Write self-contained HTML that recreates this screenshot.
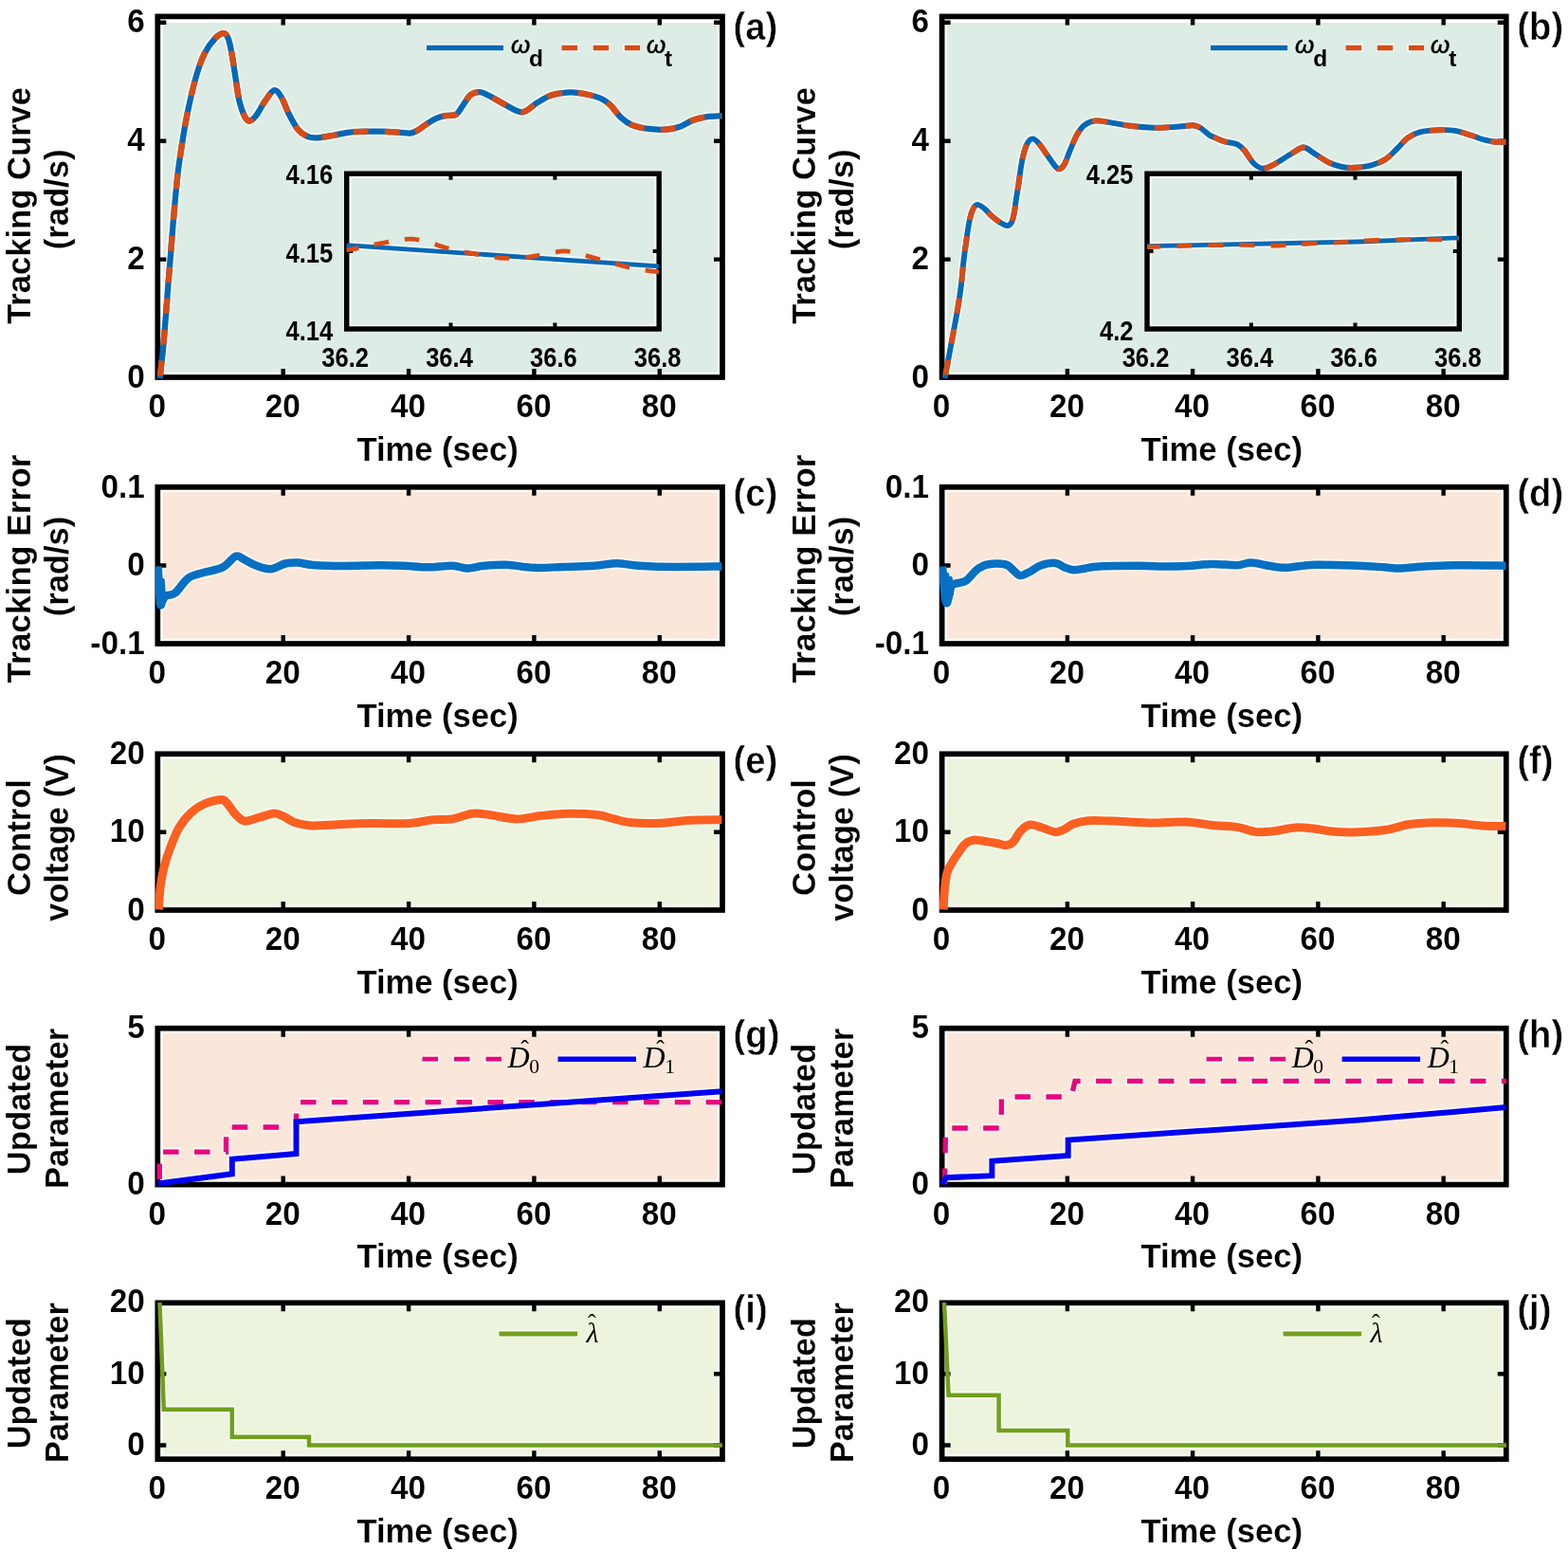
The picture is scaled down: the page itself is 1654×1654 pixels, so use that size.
<!DOCTYPE html>
<html lang="en">
<head>
<meta charset="utf-8">
<title>Tracking results</title>
<style>
html,body{margin:0;padding:0;background:#fff;}
body{width:1654px;height:1654px;overflow:hidden;}
svg{display:block;}
</style>
</head>
<body>
<svg width="1654" height="1654" viewBox="0 0 1654 1654" font-family='"Liberation Sans", sans-serif' font-size="34.6" font-weight="bold" fill="#000">
<rect width="1654" height="1654" fill="#fff"/>
<defs>
<clipPath id="h0"><rect x="169" y="20.1" width="590.3" height="375.2"/></clipPath>
<clipPath id="c0"><rect x="163.6" y="14.7" width="601.1" height="386"/></clipPath>
<clipPath id="h1"><rect x="996.3" y="20.1" width="589.8" height="375.2"/></clipPath>
<clipPath id="c1"><rect x="990.9" y="14.7" width="600.6" height="386"/></clipPath>
<clipPath id="h2"><rect x="169" y="516.5" width="590.3" height="159.8"/></clipPath>
<clipPath id="c2"><rect x="163.6" y="511.1" width="601.1" height="170.6"/></clipPath>
<clipPath id="h3"><rect x="996.3" y="516.5" width="589.8" height="159.8"/></clipPath>
<clipPath id="c3"><rect x="990.9" y="511.1" width="600.6" height="170.6"/></clipPath>
<clipPath id="h4"><rect x="169" y="798" width="590.3" height="159.3"/></clipPath>
<clipPath id="c4"><rect x="163.6" y="792.6" width="601.1" height="170.1"/></clipPath>
<clipPath id="h5"><rect x="996.3" y="798" width="589.8" height="159.3"/></clipPath>
<clipPath id="c5"><rect x="990.9" y="792.6" width="600.6" height="170.1"/></clipPath>
<clipPath id="h6"><rect x="169" y="1087.4" width="590.3" height="159.5"/></clipPath>
<clipPath id="c6"><rect x="163.6" y="1082" width="601.1" height="170.3"/></clipPath>
<clipPath id="h7"><rect x="996.3" y="1087.4" width="589.8" height="159.5"/></clipPath>
<clipPath id="c7"><rect x="990.9" y="1082" width="600.6" height="170.3"/></clipPath>
<clipPath id="h8"><rect x="169" y="1377" width="590.3" height="159.5"/></clipPath>
<clipPath id="c8"><rect x="163.6" y="1371.6" width="601.1" height="170.3"/></clipPath>
<clipPath id="h9"><rect x="996.3" y="1377" width="589.8" height="159.5"/></clipPath>
<clipPath id="c9"><rect x="990.9" y="1371.6" width="600.6" height="170.3"/></clipPath>
<clipPath id="h10"><rect x="368.4" y="185.9" width="324.1" height="158.4"/></clipPath>
<clipPath id="c10"><rect x="363" y="180.5" width="334.9" height="169.2"/></clipPath>
<clipPath id="h11"><rect x="1212.7" y="185.9" width="323.9" height="158.4"/></clipPath>
<clipPath id="c11"><rect x="1207.3" y="180.5" width="334.7" height="169.2"/></clipPath>
</defs>
<rect x="166.3" y="23.8" width="595.7" height="374.2" fill="#ddece5"/>
<rect x="170.5" y="21.5" width="587.4" height="372.3" fill="none" stroke="#fff" stroke-opacity="0.8" stroke-width="2.6"/>
<path d="M168.6 399C168.9 396.2 169.9 387.8 170.5 382C171.1 376.2 171.6 373.2 172.4 364C173.2 354.8 174.6 337.4 175.4 327C176.2 316.6 176.6 311.1 177.3 301.6C178.1 292.1 179.1 280.6 179.9 270C180.8 259.4 181.4 249.7 182.4 238C183.4 226.3 184.7 211.2 185.8 200C186.9 188.8 187.4 182.9 189.2 170.6C191 158.3 193.6 140.6 196.4 126.1C199.2 111.6 202.9 95.1 206.1 83.5C209.3 71.9 212.2 63.6 215.8 56.4C219.4 49.1 224 43.5 227.4 40C230.8 36.5 233.8 34.9 236.1 35.1C238.3 35.3 239.4 37.1 240.9 41C242.4 44.9 243.5 51.3 244.8 58.4C246.1 65.5 247.4 75.5 248.7 83.5C250 91.5 250.9 100.1 252.5 106.7C254.1 113.3 256.5 119.7 258.3 123.2C260.1 126.7 261.2 127.8 263.2 127.6C265.1 127.4 267.3 125.7 270 122.2C272.7 118.7 276.4 111.2 279.6 106.7C282.8 102.2 286.4 95.7 289.3 95.1C292.2 94.5 294.4 98.7 297 102.9C299.6 107.1 301.9 114.7 304.8 120.3C307.7 125.9 311.2 132.8 314.4 136.7C317.6 140.6 320.9 142.4 324.1 143.9C327.3 145.4 329 145.6 333.8 145.4C338.6 145.2 346.7 143.5 353.1 142.5C359.6 141.5 364.4 139.8 372.5 139.2C380.6 138.6 393.4 138.6 401.5 138.7C409.6 138.8 415.7 139.3 420.9 139.6C426.1 139.9 429.3 140.9 432.5 140.6C435.7 140.3 437.3 139.3 440.2 137.7C443.1 136.1 446.8 133 450 130.9C453.2 128.8 456.5 126.5 459.7 125.1C462.9 123.6 465.8 122.9 469.3 122.2C472.9 121.5 477.8 122.6 481 120.7C484.2 118.8 486.1 114 488.7 110.6C491.3 107.1 493.5 102.2 496.4 100C499.3 97.8 502.9 96.9 506.1 97.1C509.3 97.2 511.6 98.8 515.8 100.9C520 103 525.5 106.7 531.3 109.6C537.1 112.5 544.8 118.4 550.6 118.3C556.4 118.2 561 111.7 566.1 108.7C571.2 105.7 575.7 102.4 581.5 100.5C587.3 98.6 595.1 97.7 600.9 97.4C606.7 97.2 610.9 97.9 616.4 99C621.9 100.1 629.3 101.9 633.8 103.8C638.3 105.7 640 107.2 643.5 110.6C647 114 651.2 120.5 655.1 124.1C659 127.6 662.2 130 666.7 131.9C671.2 133.8 676.4 134.9 682.2 135.7C688 136.5 695.7 137 701.5 136.7C707.3 136.4 712.2 135.4 717 133.8C721.8 132.2 725.7 128.8 730.5 127C735.3 125.2 740.8 124 746 123.2C751.2 122.4 758.9 122.4 761.5 122.2" fill="none" stroke="#fff" stroke-opacity="0.62" stroke-width="9.9" stroke-linejoin="round" stroke-linecap="butt" clip-path="url(#h0)"/>
<path d="M450 50.5H531" fill="none" stroke="#fff" stroke-opacity="0.62" stroke-width="9.2" stroke-linejoin="round" stroke-linecap="butt" clip-path="url(#h0)"/>
<path d="M592.5 50.5H675" fill="none" stroke="#fff" stroke-opacity="0.62" stroke-width="9.2" stroke-linejoin="round" stroke-linecap="butt" stroke-dasharray="20.1 13.1" stroke-dashoffset="1.8" clip-path="url(#h0)"/>
<path d="M298.7 398 v-9 M298.7 17.4 v9M431.1 398 v-9 M431.1 17.4 v9M563.4 398 v-9 M563.4 17.4 v9M695.8 398 v-9 M695.8 17.4 v9M166.3 23.8 h9 M762 23.8 h-9M166.3 148.7 h9 M762 148.7 h-9M166.3 273.6 h9 M762 273.6 h-9" stroke="#000" stroke-width="4.4" fill="none"/>
<rect x="166.3" y="17.4" width="595.7" height="380.6" fill="none" stroke="#000" stroke-width="5.7"/>
<g clip-path="url(#c0)">
<path d="M168.6 399C168.9 396.2 169.9 387.8 170.5 382C171.1 376.2 171.6 373.2 172.4 364C173.2 354.8 174.6 337.4 175.4 327C176.2 316.6 176.6 311.1 177.3 301.6C178.1 292.1 179.1 280.6 179.9 270C180.8 259.4 181.4 249.7 182.4 238C183.4 226.3 184.7 211.2 185.8 200C186.9 188.8 187.4 182.9 189.2 170.6C191 158.3 193.6 140.6 196.4 126.1C199.2 111.6 202.9 95.1 206.1 83.5C209.3 71.9 212.2 63.6 215.8 56.4C219.4 49.1 224 43.5 227.4 40C230.8 36.5 233.8 34.9 236.1 35.1C238.3 35.3 239.4 37.1 240.9 41C242.4 44.9 243.5 51.3 244.8 58.4C246.1 65.5 247.4 75.5 248.7 83.5C250 91.5 250.9 100.1 252.5 106.7C254.1 113.3 256.5 119.7 258.3 123.2C260.1 126.7 261.2 127.8 263.2 127.6C265.1 127.4 267.3 125.7 270 122.2C272.7 118.7 276.4 111.2 279.6 106.7C282.8 102.2 286.4 95.7 289.3 95.1C292.2 94.5 294.4 98.7 297 102.9C299.6 107.1 301.9 114.7 304.8 120.3C307.7 125.9 311.2 132.8 314.4 136.7C317.6 140.6 320.9 142.4 324.1 143.9C327.3 145.4 329 145.6 333.8 145.4C338.6 145.2 346.7 143.5 353.1 142.5C359.6 141.5 364.4 139.8 372.5 139.2C380.6 138.6 393.4 138.6 401.5 138.7C409.6 138.8 415.7 139.3 420.9 139.6C426.1 139.9 429.3 140.9 432.5 140.6C435.7 140.3 437.3 139.3 440.2 137.7C443.1 136.1 446.8 133 450 130.9C453.2 128.8 456.5 126.5 459.7 125.1C462.9 123.6 465.8 122.9 469.3 122.2C472.9 121.5 477.8 122.6 481 120.7C484.2 118.8 486.1 114 488.7 110.6C491.3 107.1 493.5 102.2 496.4 100C499.3 97.8 502.9 96.9 506.1 97.1C509.3 97.2 511.6 98.8 515.8 100.9C520 103 525.5 106.7 531.3 109.6C537.1 112.5 544.8 118.4 550.6 118.3C556.4 118.2 561 111.7 566.1 108.7C571.2 105.7 575.7 102.4 581.5 100.5C587.3 98.6 595.1 97.7 600.9 97.4C606.7 97.2 610.9 97.9 616.4 99C621.9 100.1 629.3 101.9 633.8 103.8C638.3 105.7 640 107.2 643.5 110.6C647 114 651.2 120.5 655.1 124.1C659 127.6 662.2 130 666.7 131.9C671.2 133.8 676.4 134.9 682.2 135.7C688 136.5 695.7 137 701.5 136.7C707.3 136.4 712.2 135.4 717 133.8C721.8 132.2 725.7 128.8 730.5 127C735.3 125.2 740.8 124 746 123.2C751.2 122.4 758.9 122.4 761.5 122.2" fill="none" stroke="#0568b6" stroke-width="6.3" stroke-linejoin="round" stroke-linecap="butt"/>
<path d="M168.6 399C168.9 396.2 169.9 387.8 170.5 382C171.1 376.2 171.6 373.2 172.4 364C173.2 354.8 174.6 337.4 175.4 327C176.2 316.6 176.6 311.1 177.3 301.6C178.1 292.1 179.1 280.6 179.9 270C180.8 259.4 181.4 249.7 182.4 238C183.4 226.3 184.7 211.2 185.8 200C186.9 188.8 187.4 182.9 189.2 170.6C191 158.3 193.6 140.6 196.4 126.1C199.2 111.6 202.9 95.1 206.1 83.5C209.3 71.9 212.2 63.6 215.8 56.4C219.4 49.1 224 43.5 227.4 40C230.8 36.5 233.8 34.9 236.1 35.1C238.3 35.3 239.4 37.1 240.9 41C242.4 44.9 243.5 51.3 244.8 58.4C246.1 65.5 247.4 75.5 248.7 83.5C250 91.5 250.9 100.1 252.5 106.7C254.1 113.3 256.5 119.7 258.3 123.2C260.1 126.7 261.2 127.8 263.2 127.6C265.1 127.4 267.3 125.7 270 122.2C272.7 118.7 276.4 111.2 279.6 106.7C282.8 102.2 286.4 95.7 289.3 95.1C292.2 94.5 294.4 98.7 297 102.9C299.6 107.1 301.9 114.7 304.8 120.3C307.7 125.9 311.2 132.8 314.4 136.7C317.6 140.6 320.9 142.4 324.1 143.9C327.3 145.4 329 145.6 333.8 145.4C338.6 145.2 346.7 143.5 353.1 142.5C359.6 141.5 364.4 139.8 372.5 139.2C380.6 138.6 393.4 138.6 401.5 138.7C409.6 138.8 415.7 139.3 420.9 139.6C426.1 139.9 429.3 140.9 432.5 140.6C435.7 140.3 437.3 139.3 440.2 137.7C443.1 136.1 446.8 133 450 130.9C453.2 128.8 456.5 126.5 459.7 125.1C462.9 123.6 465.8 122.9 469.3 122.2C472.9 121.5 477.8 122.6 481 120.7C484.2 118.8 486.1 114 488.7 110.6C491.3 107.1 493.5 102.2 496.4 100C499.3 97.8 502.9 96.9 506.1 97.1C509.3 97.2 511.6 98.8 515.8 100.9C520 103 525.5 106.7 531.3 109.6C537.1 112.5 544.8 118.4 550.6 118.3C556.4 118.2 561 111.7 566.1 108.7C571.2 105.7 575.7 102.4 581.5 100.5C587.3 98.6 595.1 97.7 600.9 97.4C606.7 97.2 610.9 97.9 616.4 99C621.9 100.1 629.3 101.9 633.8 103.8C638.3 105.7 640 107.2 643.5 110.6C647 114 651.2 120.5 655.1 124.1C659 127.6 662.2 130 666.7 131.9C671.2 133.8 676.4 134.9 682.2 135.7C688 136.5 695.7 137 701.5 136.7C707.3 136.4 712.2 135.4 717 133.8C721.8 132.2 725.7 128.8 730.5 127C735.3 125.2 740.8 124 746 123.2C751.2 122.4 758.9 122.4 761.5 122.2" fill="none" stroke="#d94c15" stroke-width="6.3" stroke-linejoin="round" stroke-linecap="butt" stroke-dasharray="16 17" stroke-dashoffset="30.3"/>
</g>
<path d="M450 50.5H531" fill="none" stroke="#0568b6" stroke-width="5.6" stroke-linejoin="round" stroke-linecap="butt"/>
<path d="M592.5 50.5H675" fill="none" stroke="#d94c15" stroke-width="5.6" stroke-linejoin="round" stroke-linecap="butt" stroke-dasharray="16.5 16.7"/>
<text x="539" y="56" font-size="26" font-style="italic" font-weight="normal" stroke="#000" stroke-width="0.5">ω<tspan dx="-1.2" dy="14" font-size="24.5" font-style="normal" font-weight="bold" stroke="none">d</tspan></text>
<text x="682" y="56" font-size="26" font-style="italic" font-weight="normal" stroke="#000" stroke-width="0.5">ω<tspan dx="-1.2" dy="14" font-size="24.5" font-style="normal" font-weight="bold" stroke="none">t</tspan></text>
<text transform="translate(165.8 440) scale(0.9615 1)" text-anchor="middle" font-size="34.63" stroke="#fff" stroke-width="0.1">0</text>
<text transform="translate(298.2 440) scale(0.9615 1)" text-anchor="middle" font-size="34.63" stroke="#fff" stroke-width="0.1">20</text>
<text transform="translate(430.6 440) scale(0.9615 1)" text-anchor="middle" font-size="34.63" stroke="#fff" stroke-width="0.1">40</text>
<text transform="translate(562.9 440) scale(0.9615 1)" text-anchor="middle" font-size="34.63" stroke="#fff" stroke-width="0.1">60</text>
<text transform="translate(695.3 440) scale(0.9615 1)" text-anchor="middle" font-size="34.63" stroke="#fff" stroke-width="0.1">80</text>
<text transform="translate(461.6 485.6) scale(0.9615 1)" text-anchor="middle" font-size="35.98" stroke="#fff" stroke-width="0.15">Time (sec)</text>
<text transform="translate(152.7 34.4) scale(0.9615 1)" text-anchor="end" font-size="34.63" stroke="#fff" stroke-width="0.1">6</text>
<text transform="translate(152.7 159.3) scale(0.9615 1)" text-anchor="end" font-size="34.63" stroke="#fff" stroke-width="0.1">4</text>
<text transform="translate(152.7 284.2) scale(0.9615 1)" text-anchor="end" font-size="34.63" stroke="#fff" stroke-width="0.1">2</text>
<text transform="translate(152.7 408.8) scale(0.9615 1)" text-anchor="end" font-size="34.63" stroke="#fff" stroke-width="0.1">0</text>
<text transform="translate(773.6 41.7) scale(0.9615 1)" font-size="39.73" stroke="#fff" stroke-width="0.5">(a)</text>
<text transform="translate(32.3 217) rotate(-90) scale(0.9615 1)" text-anchor="middle" font-size="35.98" stroke="#fff" stroke-width="0.15">Tracking Curve</text>
<text transform="translate(72.3 210.4) rotate(-90) scale(0.9615 1)" text-anchor="middle" font-size="35.98" stroke="#fff" stroke-width="0.15">(rad/s)</text>
<rect x="993.6" y="23.8" width="595.2" height="374.2" fill="#ddece5"/>
<rect x="997.8" y="21.5" width="586.9" height="372.3" fill="none" stroke="#fff" stroke-opacity="0.8" stroke-width="2.6"/>
<path d="M996.6 399C997.4 394.7 999.9 381.3 1001.5 373C1003.1 364.7 1004.6 356.7 1006 349C1007.4 341.3 1008.7 334.9 1010 327C1011.3 319.1 1012.7 310.1 1013.8 301.6C1014.9 293.1 1015.5 283.6 1016.4 276.2C1017.2 268.8 1017.9 264 1018.9 257.2C1019.9 250.4 1020.9 241.5 1022.1 235.6C1023.3 229.7 1024.4 224.9 1025.9 221.6C1027.4 218.3 1028.9 216.1 1031 215.9C1033.1 215.7 1036.1 218.3 1038.6 220.3C1041.1 222.3 1043.2 225.4 1046.2 227.9C1049.2 230.4 1053.7 233.9 1056.4 235.6C1059.2 237.3 1060.9 238.3 1062.7 238.1C1064.5 237.9 1066.1 236.7 1067.3 234.3C1068.5 231.9 1069.2 227.4 1070 223.5C1070.8 219.6 1071 215.9 1071.8 211C1072.5 206.1 1073.4 200.9 1074.5 193.8C1075.6 186.7 1076.8 175.5 1078.3 168.6C1079.8 161.7 1081.4 155.9 1083.2 152.2C1085 148.5 1086.9 146.6 1089 146.4C1091.1 146.2 1093.1 148.1 1095.8 151.2C1098.5 154.3 1102.5 160.8 1105.4 164.8C1108.3 168.8 1111.2 173.2 1113.2 175.4C1115.2 177.7 1115.8 178.6 1117.4 178.3C1119 178 1120.9 176.7 1122.8 173.5C1124.7 170.3 1126.3 164.3 1128.6 159C1130.9 153.7 1133.8 146.1 1136.4 141.6C1139 137.1 1140.9 134.3 1144.1 131.9C1147.3 129.5 1150.9 127.8 1155.7 127.4C1160.5 127 1167 128.7 1173.1 129.6C1179.2 130.5 1185.1 131.9 1192.5 132.8C1199.9 133.7 1209.5 134.6 1217.6 134.8C1225.6 135 1234 134.2 1240.8 133.8C1247.6 133.4 1254.1 132.1 1258.3 132.3C1262.5 132.5 1263.1 133.1 1266 134.8C1268.9 136.5 1273.4 140.9 1275.7 142.5C1278 144.1 1277.3 143.4 1280 144.5C1282.7 145.6 1287.4 148 1291.6 149.3C1295.8 150.6 1301.5 150.6 1305.1 152.2C1308.6 153.8 1310 155.6 1312.9 159C1315.8 162.4 1319.4 169.4 1322.6 172.5C1325.8 175.6 1328.7 177.5 1332.2 177.7C1335.7 177.9 1339 176 1343.8 173.5C1348.6 171 1356.1 165.8 1361.3 162.8C1366.5 159.8 1370.6 155.7 1374.8 155.5C1379 155.3 1381.9 159.2 1386.4 161.9C1390.9 164.6 1397.1 169.2 1401.9 171.5C1406.7 173.8 1410.9 175.1 1415.4 176C1419.9 176.9 1423.8 177.1 1429 176.8C1434.2 176.5 1440.9 175.9 1446.4 174.4C1451.9 172.9 1457.4 170.6 1461.9 167.7C1466.4 164.8 1469.6 160.7 1473.5 157C1477.4 153.3 1480.9 148.4 1485.1 145.4C1489.3 142.4 1493.4 140.5 1498.6 139.2C1503.8 137.8 1510.2 137.6 1516 137.3C1521.8 137.1 1527.6 136.8 1533.4 137.7C1539.2 138.6 1545.4 140.8 1550.9 142.5C1556.4 144.2 1561.8 146.5 1566.3 147.7C1570.8 148.9 1574.2 149.4 1577.9 149.7C1581.6 150 1586.7 149.7 1588.5 149.7" fill="none" stroke="#fff" stroke-opacity="0.62" stroke-width="9.5" stroke-linejoin="round" stroke-linecap="butt" clip-path="url(#h1)"/>
<path d="M1277.1 50.5H1358.1" fill="none" stroke="#fff" stroke-opacity="0.62" stroke-width="9.2" stroke-linejoin="round" stroke-linecap="butt" clip-path="url(#h1)"/>
<path d="M1419.6 50.5H1502.1" fill="none" stroke="#fff" stroke-opacity="0.62" stroke-width="9.2" stroke-linejoin="round" stroke-linecap="butt" stroke-dasharray="20.1 13.1" stroke-dashoffset="1.8" clip-path="url(#h1)"/>
<path d="M1125.9 398 v-9 M1125.9 17.4 v9M1258.1 398 v-9 M1258.1 17.4 v9M1390.4 398 v-9 M1390.4 17.4 v9M1522.7 398 v-9 M1522.7 17.4 v9M993.6 23.8 h9 M1588.8 23.8 h-9M993.6 148.7 h9 M1588.8 148.7 h-9M993.6 273.6 h9 M1588.8 273.6 h-9" stroke="#000" stroke-width="4.4" fill="none"/>
<rect x="993.6" y="17.4" width="595.2" height="380.6" fill="none" stroke="#000" stroke-width="5.7"/>
<g clip-path="url(#c1)">
<path d="M996.6 399C997.4 394.7 999.9 381.3 1001.5 373C1003.1 364.7 1004.6 356.7 1006 349C1007.4 341.3 1008.7 334.9 1010 327C1011.3 319.1 1012.7 310.1 1013.8 301.6C1014.9 293.1 1015.5 283.6 1016.4 276.2C1017.2 268.8 1017.9 264 1018.9 257.2C1019.9 250.4 1020.9 241.5 1022.1 235.6C1023.3 229.7 1024.4 224.9 1025.9 221.6C1027.4 218.3 1028.9 216.1 1031 215.9C1033.1 215.7 1036.1 218.3 1038.6 220.3C1041.1 222.3 1043.2 225.4 1046.2 227.9C1049.2 230.4 1053.7 233.9 1056.4 235.6C1059.2 237.3 1060.9 238.3 1062.7 238.1C1064.5 237.9 1066.1 236.7 1067.3 234.3C1068.5 231.9 1069.2 227.4 1070 223.5C1070.8 219.6 1071 215.9 1071.8 211C1072.5 206.1 1073.4 200.9 1074.5 193.8C1075.6 186.7 1076.8 175.5 1078.3 168.6C1079.8 161.7 1081.4 155.9 1083.2 152.2C1085 148.5 1086.9 146.6 1089 146.4C1091.1 146.2 1093.1 148.1 1095.8 151.2C1098.5 154.3 1102.5 160.8 1105.4 164.8C1108.3 168.8 1111.2 173.2 1113.2 175.4C1115.2 177.7 1115.8 178.6 1117.4 178.3C1119 178 1120.9 176.7 1122.8 173.5C1124.7 170.3 1126.3 164.3 1128.6 159C1130.9 153.7 1133.8 146.1 1136.4 141.6C1139 137.1 1140.9 134.3 1144.1 131.9C1147.3 129.5 1150.9 127.8 1155.7 127.4C1160.5 127 1167 128.7 1173.1 129.6C1179.2 130.5 1185.1 131.9 1192.5 132.8C1199.9 133.7 1209.5 134.6 1217.6 134.8C1225.6 135 1234 134.2 1240.8 133.8C1247.6 133.4 1254.1 132.1 1258.3 132.3C1262.5 132.5 1263.1 133.1 1266 134.8C1268.9 136.5 1273.4 140.9 1275.7 142.5C1278 144.1 1277.3 143.4 1280 144.5C1282.7 145.6 1287.4 148 1291.6 149.3C1295.8 150.6 1301.5 150.6 1305.1 152.2C1308.6 153.8 1310 155.6 1312.9 159C1315.8 162.4 1319.4 169.4 1322.6 172.5C1325.8 175.6 1328.7 177.5 1332.2 177.7C1335.7 177.9 1339 176 1343.8 173.5C1348.6 171 1356.1 165.8 1361.3 162.8C1366.5 159.8 1370.6 155.7 1374.8 155.5C1379 155.3 1381.9 159.2 1386.4 161.9C1390.9 164.6 1397.1 169.2 1401.9 171.5C1406.7 173.8 1410.9 175.1 1415.4 176C1419.9 176.9 1423.8 177.1 1429 176.8C1434.2 176.5 1440.9 175.9 1446.4 174.4C1451.9 172.9 1457.4 170.6 1461.9 167.7C1466.4 164.8 1469.6 160.7 1473.5 157C1477.4 153.3 1480.9 148.4 1485.1 145.4C1489.3 142.4 1493.4 140.5 1498.6 139.2C1503.8 137.8 1510.2 137.6 1516 137.3C1521.8 137.1 1527.6 136.8 1533.4 137.7C1539.2 138.6 1545.4 140.8 1550.9 142.5C1556.4 144.2 1561.8 146.5 1566.3 147.7C1570.8 148.9 1574.2 149.4 1577.9 149.7C1581.6 150 1586.7 149.7 1588.5 149.7" fill="none" stroke="#0568b6" stroke-width="5.9" stroke-linejoin="round" stroke-linecap="butt"/>
<path d="M996.6 399C997.4 394.7 999.9 381.3 1001.5 373C1003.1 364.7 1004.6 356.7 1006 349C1007.4 341.3 1008.7 334.9 1010 327C1011.3 319.1 1012.7 310.1 1013.8 301.6C1014.9 293.1 1015.5 283.6 1016.4 276.2C1017.2 268.8 1017.9 264 1018.9 257.2C1019.9 250.4 1020.9 241.5 1022.1 235.6C1023.3 229.7 1024.4 224.9 1025.9 221.6C1027.4 218.3 1028.9 216.1 1031 215.9C1033.1 215.7 1036.1 218.3 1038.6 220.3C1041.1 222.3 1043.2 225.4 1046.2 227.9C1049.2 230.4 1053.7 233.9 1056.4 235.6C1059.2 237.3 1060.9 238.3 1062.7 238.1C1064.5 237.9 1066.1 236.7 1067.3 234.3C1068.5 231.9 1069.2 227.4 1070 223.5C1070.8 219.6 1071 215.9 1071.8 211C1072.5 206.1 1073.4 200.9 1074.5 193.8C1075.6 186.7 1076.8 175.5 1078.3 168.6C1079.8 161.7 1081.4 155.9 1083.2 152.2C1085 148.5 1086.9 146.6 1089 146.4C1091.1 146.2 1093.1 148.1 1095.8 151.2C1098.5 154.3 1102.5 160.8 1105.4 164.8C1108.3 168.8 1111.2 173.2 1113.2 175.4C1115.2 177.7 1115.8 178.6 1117.4 178.3C1119 178 1120.9 176.7 1122.8 173.5C1124.7 170.3 1126.3 164.3 1128.6 159C1130.9 153.7 1133.8 146.1 1136.4 141.6C1139 137.1 1140.9 134.3 1144.1 131.9C1147.3 129.5 1150.9 127.8 1155.7 127.4C1160.5 127 1167 128.7 1173.1 129.6C1179.2 130.5 1185.1 131.9 1192.5 132.8C1199.9 133.7 1209.5 134.6 1217.6 134.8C1225.6 135 1234 134.2 1240.8 133.8C1247.6 133.4 1254.1 132.1 1258.3 132.3C1262.5 132.5 1263.1 133.1 1266 134.8C1268.9 136.5 1273.4 140.9 1275.7 142.5C1278 144.1 1277.3 143.4 1280 144.5C1282.7 145.6 1287.4 148 1291.6 149.3C1295.8 150.6 1301.5 150.6 1305.1 152.2C1308.6 153.8 1310 155.6 1312.9 159C1315.8 162.4 1319.4 169.4 1322.6 172.5C1325.8 175.6 1328.7 177.5 1332.2 177.7C1335.7 177.9 1339 176 1343.8 173.5C1348.6 171 1356.1 165.8 1361.3 162.8C1366.5 159.8 1370.6 155.7 1374.8 155.5C1379 155.3 1381.9 159.2 1386.4 161.9C1390.9 164.6 1397.1 169.2 1401.9 171.5C1406.7 173.8 1410.9 175.1 1415.4 176C1419.9 176.9 1423.8 177.1 1429 176.8C1434.2 176.5 1440.9 175.9 1446.4 174.4C1451.9 172.9 1457.4 170.6 1461.9 167.7C1466.4 164.8 1469.6 160.7 1473.5 157C1477.4 153.3 1480.9 148.4 1485.1 145.4C1489.3 142.4 1493.4 140.5 1498.6 139.2C1503.8 137.8 1510.2 137.6 1516 137.3C1521.8 137.1 1527.6 136.8 1533.4 137.7C1539.2 138.6 1545.4 140.8 1550.9 142.5C1556.4 144.2 1561.8 146.5 1566.3 147.7C1570.8 148.9 1574.2 149.4 1577.9 149.7C1581.6 150 1586.7 149.7 1588.5 149.7" fill="none" stroke="#d94c15" stroke-width="5.9" stroke-linejoin="round" stroke-linecap="butt" stroke-dasharray="16 17" stroke-dashoffset="29.1"/>
</g>
<path d="M1277.1 50.5H1358.1" fill="none" stroke="#0568b6" stroke-width="5.6" stroke-linejoin="round" stroke-linecap="butt"/>
<path d="M1419.6 50.5H1502.1" fill="none" stroke="#d94c15" stroke-width="5.6" stroke-linejoin="round" stroke-linecap="butt" stroke-dasharray="16.5 16.7"/>
<text x="1366.1" y="56" font-size="26" font-style="italic" font-weight="normal" stroke="#000" stroke-width="0.5">ω<tspan dx="-1.2" dy="14" font-size="24.5" font-style="normal" font-weight="bold" stroke="none">d</tspan></text>
<text x="1509.1" y="56" font-size="26" font-style="italic" font-weight="normal" stroke="#000" stroke-width="0.5">ω<tspan dx="-1.2" dy="14" font-size="24.5" font-style="normal" font-weight="bold" stroke="none">t</tspan></text>
<text transform="translate(993.1 440) scale(0.9615 1)" text-anchor="middle" font-size="34.63" stroke="#fff" stroke-width="0.1">0</text>
<text transform="translate(1125.4 440) scale(0.9615 1)" text-anchor="middle" font-size="34.63" stroke="#fff" stroke-width="0.1">20</text>
<text transform="translate(1257.6 440) scale(0.9615 1)" text-anchor="middle" font-size="34.63" stroke="#fff" stroke-width="0.1">40</text>
<text transform="translate(1389.9 440) scale(0.9615 1)" text-anchor="middle" font-size="34.63" stroke="#fff" stroke-width="0.1">60</text>
<text transform="translate(1522.2 440) scale(0.9615 1)" text-anchor="middle" font-size="34.63" stroke="#fff" stroke-width="0.1">80</text>
<text transform="translate(1288.7 485.6) scale(0.9615 1)" text-anchor="middle" font-size="35.98" stroke="#fff" stroke-width="0.15">Time (sec)</text>
<text transform="translate(980 34.4) scale(0.9615 1)" text-anchor="end" font-size="34.63" stroke="#fff" stroke-width="0.1">6</text>
<text transform="translate(980 159.3) scale(0.9615 1)" text-anchor="end" font-size="34.63" stroke="#fff" stroke-width="0.1">4</text>
<text transform="translate(980 284.2) scale(0.9615 1)" text-anchor="end" font-size="34.63" stroke="#fff" stroke-width="0.1">2</text>
<text transform="translate(980 408.8) scale(0.9615 1)" text-anchor="end" font-size="34.63" stroke="#fff" stroke-width="0.1">0</text>
<text transform="translate(1600.4 41.7) scale(0.9615 1)" font-size="39.73" stroke="#fff" stroke-width="0.5">(b)</text>
<text transform="translate(859.6 217) rotate(-90) scale(0.9615 1)" text-anchor="middle" font-size="35.98" stroke="#fff" stroke-width="0.15">Tracking Curve</text>
<text transform="translate(899.6 210.4) rotate(-90) scale(0.9615 1)" text-anchor="middle" font-size="35.98" stroke="#fff" stroke-width="0.15">(rad/s)</text>
<rect x="369.5" y="187" width="321.9" height="156.2" fill="none" stroke="#fff" stroke-opacity="0.7" stroke-width="2.2"/>
<path d="M365.7 258.6L695 280.9" fill="none" stroke="#fff" stroke-opacity="0.62" stroke-width="8.4" stroke-linejoin="round" stroke-linecap="butt" clip-path="url(#h10)"/>
<path d="M475.5 347 v-6.5 M475.5 183.2 v6.5M585.4 347 v-6.5 M585.4 183.2 v6.5M365.7 265.1 h6.5 M695.2 265.1 h-6.5" stroke="#000" stroke-width="4" fill="none"/>
<rect x="365.7" y="183.2" width="329.5" height="163.8" fill="none" stroke="#000" stroke-width="5.4"/>
<g clip-path="url(#c10)">
<path d="M365.7 258.6L695 280.9" fill="none" stroke="#0568b6" stroke-width="4.8" stroke-linejoin="round" stroke-linecap="butt"/>
<path d="M365.6 263.8C367.7 263.4 373.9 262.4 378 261.6C382.1 260.8 385.6 259.9 390 259C394.4 258.1 399.7 257.1 404.7 256.2C409.7 255.2 414.9 254 420 253.3C425.1 252.6 430.1 251.8 435.4 252.2C440.7 252.6 446.5 254.2 452 255.6C457.5 257 462.9 259.2 468.2 260.7C473.5 262.2 478.7 263.4 484 264.6C489.3 265.8 494.6 266.7 499.9 267.7C505.2 268.7 510.7 269.6 516 270.4C521.3 271.2 526.4 272 531.7 272.3C537 272.6 542.7 272.4 548 272C553.3 271.6 558.1 271.1 563.4 270.2C568.7 269.3 574.6 267.7 580 266.8C585.4 265.9 590.5 264.8 595.7 264.9C600.9 265 605.7 266.4 611 267.6C616.3 268.8 622.1 270.8 627.4 272.3C632.7 273.8 637.8 275.4 643 276.8C648.2 278.2 653.4 279.6 658.6 280.8C663.8 282 669 283.1 674 284C679 284.9 684.8 285.6 688.3 286.1C691.8 286.6 693.9 286.7 695 286.8" fill="none" stroke="#d94c15" stroke-width="4.8" stroke-linejoin="round" stroke-linecap="butt" stroke-dasharray="15.5 16.9" stroke-dashoffset="2.5"/>
</g>
<text transform="translate(364.2 386.8) scale(0.8654 1)" text-anchor="middle" font-size="29.49">36.2</text>
<text transform="translate(474 386.8) scale(0.8654 1)" text-anchor="middle" font-size="29.49">36.4</text>
<text transform="translate(583.9 386.8) scale(0.8654 1)" text-anchor="middle" font-size="29.49">36.6</text>
<text transform="translate(693.7 386.8) scale(0.8654 1)" text-anchor="middle" font-size="29.49">36.8</text>
<text transform="translate(351.2 194.3) scale(0.8654 1)" text-anchor="end" font-size="29.49">4.16</text>
<text transform="translate(351.2 276.8) scale(0.8654 1)" text-anchor="end" font-size="29.49">4.15</text>
<text transform="translate(351.2 359.3) scale(0.8654 1)" text-anchor="end" font-size="29.49">4.14</text>
<rect x="1213.8" y="187" width="321.7" height="156.2" fill="none" stroke="#fff" stroke-opacity="0.7" stroke-width="2.2"/>
<path d="M1210 259.6L1433 255L1539 250.8" fill="none" stroke="#fff" stroke-opacity="0.62" stroke-width="8.4" stroke-linejoin="round" stroke-linecap="butt" clip-path="url(#h11)"/>
<path d="M1319.8 347 v-6.5 M1319.8 183.2 v6.5M1429.5 347 v-6.5 M1429.5 183.2 v6.5M1210 265.1 h6.5 M1539.3 265.1 h-6.5" stroke="#000" stroke-width="4" fill="none"/>
<rect x="1210" y="183.2" width="329.3" height="163.8" fill="none" stroke="#000" stroke-width="5.4"/>
<g clip-path="url(#c11)">
<path d="M1210 259.6L1433 255L1539 250.8" fill="none" stroke="#0568b6" stroke-width="4.8" stroke-linejoin="round" stroke-linecap="butt"/>
<path d="M1210 260.6C1216.7 260.4 1236.7 259.7 1250 259.3C1263.3 258.9 1279.2 258.6 1290 258.5C1300.8 258.4 1305.3 258.3 1315 258.4C1324.7 258.5 1337.2 259.2 1348 259C1358.8 258.8 1369 257.6 1380 257C1391 256.4 1403 256.3 1414 255.7C1425 255.1 1435 254.1 1446 253.6C1457 253.1 1468.8 252.8 1480 252.7C1491.2 252.6 1503.2 252.9 1513 252.8C1522.8 252.8 1534.7 252.5 1539 252.4" fill="none" stroke="#d94c15" stroke-width="4.8" stroke-linejoin="round" stroke-linecap="butt" stroke-dasharray="16 17" stroke-dashoffset="1.6"/>
</g>
<text transform="translate(1208.5 386.8) scale(0.8654 1)" text-anchor="middle" font-size="29.49">36.2</text>
<text transform="translate(1318.3 386.8) scale(0.8654 1)" text-anchor="middle" font-size="29.49">36.4</text>
<text transform="translate(1428 386.8) scale(0.8654 1)" text-anchor="middle" font-size="29.49">36.6</text>
<text transform="translate(1537.8 386.8) scale(0.8654 1)" text-anchor="middle" font-size="29.49">36.8</text>
<text transform="translate(1195.5 194.3) scale(0.8654 1)" text-anchor="end" font-size="29.49">4.25</text>
<text transform="translate(1195.5 359.3) scale(0.8654 1)" text-anchor="end" font-size="29.49">4.2</text>
<rect x="166.3" y="513.8" width="595.7" height="165.2" fill="#fae7d9"/>
<rect x="170.5" y="517.9" width="587.4" height="156.9" fill="none" stroke="#fff" stroke-opacity="0.8" stroke-width="2.6"/>
<path d="M166.7 597.4C166.9 601 167.4 612 167.8 618.7C168.2 625.4 168.7 635.2 169.3 637.7C169.9 640.2 170.5 635.2 171.5 633.7C172.5 632.2 172.9 629.8 175.1 628.4C177.3 627 180.9 628.6 184.8 625.5C188.7 622.4 193.6 613.5 198.4 610C203.2 606.5 207.7 606.1 213.8 604.2C219.9 602.3 229.3 601.3 235.1 598.4C240.9 595.5 244.8 588.1 248.7 586.8C252.6 585.5 254.8 589.1 258.3 590.7C261.9 592.3 265.5 594.9 270 596.5C274.5 598.1 280.2 600.6 285.4 600.3C290.5 600 296.1 595.6 300.9 594.5C305.7 593.4 309.6 593.4 314.4 593.6C319.2 593.8 321.8 595.4 329.9 595.9C338 596.5 351.1 596.9 362.8 596.9C374.5 597 389.5 596.2 400 596.2C410.5 596.2 417.2 596.4 425.8 596.7C434.4 597.1 443 598.3 451.6 598.3C460.2 598.3 470.5 596.5 477.4 596.7C484.3 596.9 487.3 599.6 492.9 599.6C498.5 599.6 504.1 597.4 511 596.7C517.9 596.1 525.6 595.4 534.2 595.7C542.8 596.1 552.7 598.4 562.6 598.8C572.5 599.2 582.8 598.4 593.6 598C604.4 597.6 617.7 597.3 627.2 596.7C636.7 596.1 642.6 594.2 650.4 594.2C658.1 594.2 663.8 596.1 673.7 596.7C683.6 597.3 695.2 597.9 709.8 598C724.4 598.1 752.8 597.6 761.4 597.5" fill="none" stroke="#fff" stroke-opacity="0.62" stroke-width="12.1" stroke-linejoin="round" stroke-linecap="butt" clip-path="url(#h2)"/>
<path d="M298.7 679 v-9 M298.7 513.8 v9M431.1 679 v-9 M431.1 513.8 v9M563.4 679 v-9 M563.4 513.8 v9M695.8 679 v-9 M695.8 513.8 v9M166.3 596.5 h9 M762 596.5 h-9" stroke="#000" stroke-width="4.4" fill="none"/>
<rect x="166.3" y="513.8" width="595.7" height="165.2" fill="none" stroke="#000" stroke-width="5.7"/>
<g clip-path="url(#c2)">
<path d="M166.7 597.4C166.9 601 167.4 612 167.8 618.7C168.2 625.4 168.7 635.2 169.3 637.7C169.9 640.2 170.5 635.2 171.5 633.7C172.5 632.2 172.9 629.8 175.1 628.4C177.3 627 180.9 628.6 184.8 625.5C188.7 622.4 193.6 613.5 198.4 610C203.2 606.5 207.7 606.1 213.8 604.2C219.9 602.3 229.3 601.3 235.1 598.4C240.9 595.5 244.8 588.1 248.7 586.8C252.6 585.5 254.8 589.1 258.3 590.7C261.9 592.3 265.5 594.9 270 596.5C274.5 598.1 280.2 600.6 285.4 600.3C290.5 600 296.1 595.6 300.9 594.5C305.7 593.4 309.6 593.4 314.4 593.6C319.2 593.8 321.8 595.4 329.9 595.9C338 596.5 351.1 596.9 362.8 596.9C374.5 597 389.5 596.2 400 596.2C410.5 596.2 417.2 596.4 425.8 596.7C434.4 597.1 443 598.3 451.6 598.3C460.2 598.3 470.5 596.5 477.4 596.7C484.3 596.9 487.3 599.6 492.9 599.6C498.5 599.6 504.1 597.4 511 596.7C517.9 596.1 525.6 595.4 534.2 595.7C542.8 596.1 552.7 598.4 562.6 598.8C572.5 599.2 582.8 598.4 593.6 598C604.4 597.6 617.7 597.3 627.2 596.7C636.7 596.1 642.6 594.2 650.4 594.2C658.1 594.2 663.8 596.1 673.7 596.7C683.6 597.3 695.2 597.9 709.8 598C724.4 598.1 752.8 597.6 761.4 597.5" fill="none" stroke="#0870c2" stroke-width="8.5" stroke-linejoin="round" stroke-linecap="butt"/>
<path d="M168 600L169.5 640L171.5 612L173 634" fill="none" stroke="#0870c2" stroke-width="4.5" stroke-linejoin="round" stroke-linecap="butt"/>
</g>
<text transform="translate(165.8 721) scale(0.9615 1)" text-anchor="middle" font-size="34.63" stroke="#fff" stroke-width="0.1">0</text>
<text transform="translate(298.2 721) scale(0.9615 1)" text-anchor="middle" font-size="34.63" stroke="#fff" stroke-width="0.1">20</text>
<text transform="translate(430.6 721) scale(0.9615 1)" text-anchor="middle" font-size="34.63" stroke="#fff" stroke-width="0.1">40</text>
<text transform="translate(562.9 721) scale(0.9615 1)" text-anchor="middle" font-size="34.63" stroke="#fff" stroke-width="0.1">60</text>
<text transform="translate(695.3 721) scale(0.9615 1)" text-anchor="middle" font-size="34.63" stroke="#fff" stroke-width="0.1">80</text>
<text transform="translate(461.6 766.6) scale(0.9615 1)" text-anchor="middle" font-size="35.98" stroke="#fff" stroke-width="0.15">Time (sec)</text>
<text transform="translate(152.7 524.6) scale(0.9615 1)" text-anchor="end" font-size="34.63" stroke="#fff" stroke-width="0.1">0.1</text>
<text transform="translate(152.7 607.1) scale(0.9615 1)" text-anchor="end" font-size="34.63" stroke="#fff" stroke-width="0.1">0</text>
<text transform="translate(152.7 689.6) scale(0.9615 1)" text-anchor="end" font-size="34.63" stroke="#fff" stroke-width="0.1">-0.1</text>
<text transform="translate(773.6 534) scale(0.9615 1)" font-size="39.73" stroke="#fff" stroke-width="0.5">(c)</text>
<text transform="translate(32.3 600) rotate(-90) scale(0.9808 1)" text-anchor="middle" font-size="35.98" stroke="#fff" stroke-width="0.15">Tracking Error</text>
<text transform="translate(72.3 597.5) rotate(-90) scale(0.9615 1)" text-anchor="middle" font-size="35.98" stroke="#fff" stroke-width="0.15">(rad/s)</text>
<rect x="993.6" y="513.8" width="595.2" height="165.2" fill="#fae7d9"/>
<rect x="997.8" y="517.9" width="586.9" height="156.9" fill="none" stroke="#fff" stroke-opacity="0.8" stroke-width="2.6"/>
<path d="M994.2 597.4C994.4 600.5 995 610.2 995.5 615.7C996 621.2 996.4 627.3 997 630.7C997.6 634.1 998.2 636.8 999 636.1C999.8 635.4 1000.5 629.9 1001.5 626.7C1002.5 623.5 1002 619 1004.8 616.7C1007.6 614.4 1014.2 615.5 1018.4 612.9C1022.6 610.3 1026.1 604.2 1030 601.3C1033.9 598.4 1036.4 596.5 1041.6 595.5C1046.8 594.5 1056.4 594.5 1060.9 595.5C1065.4 596.5 1066.1 599.4 1068.7 601.3C1071.3 603.2 1073.5 606.8 1076.4 607.1C1079.3 607.4 1082.5 605 1086.1 603.2C1089.6 601.4 1093.2 598 1097.7 596.5C1102.2 595 1109 593.6 1113.2 593.9C1117.4 594.2 1119.6 597.2 1122.8 598.4C1126 599.6 1129 601.1 1132.5 601.3C1136 601.5 1139.6 600.4 1144.1 599.7C1148.6 599.1 1149.9 597.9 1159.6 597.4C1169.3 596.9 1191 596.8 1202.2 596.8C1213.4 596.8 1218.6 597.5 1227 597.5C1235.4 597.5 1244.2 597.4 1252.8 597C1261.4 596.6 1270 595 1278.6 594.9C1287.2 594.8 1297.5 596.4 1304.4 596.2C1311.3 596 1314.3 593.5 1319.9 593.6C1325.5 593.7 1332 595.8 1338 596.7C1344 597.6 1347.8 599 1356 598.8C1364.2 598.6 1374.1 596.1 1387 595.7C1399.9 595.4 1421.5 596.3 1433.5 596.7C1445.5 597.1 1452 597.8 1459.3 598.3C1466.6 598.8 1471 599.7 1477.4 599.6C1483.9 599.5 1488.1 598.3 1498 597.7C1507.9 597.1 1521.7 596.4 1536.8 596.2C1551.9 596 1579.8 596.6 1588.4 596.7" fill="none" stroke="#fff" stroke-opacity="0.62" stroke-width="12.1" stroke-linejoin="round" stroke-linecap="butt" clip-path="url(#h3)"/>
<path d="M1125.9 679 v-9 M1125.9 513.8 v9M1258.1 679 v-9 M1258.1 513.8 v9M1390.4 679 v-9 M1390.4 513.8 v9M1522.7 679 v-9 M1522.7 513.8 v9M993.6 596.5 h9 M1588.8 596.5 h-9" stroke="#000" stroke-width="4.4" fill="none"/>
<rect x="993.6" y="513.8" width="595.2" height="165.2" fill="none" stroke="#000" stroke-width="5.7"/>
<g clip-path="url(#c3)">
<path d="M994.2 597.4C994.4 600.5 995 610.2 995.5 615.7C996 621.2 996.4 627.3 997 630.7C997.6 634.1 998.2 636.8 999 636.1C999.8 635.4 1000.5 629.9 1001.5 626.7C1002.5 623.5 1002 619 1004.8 616.7C1007.6 614.4 1014.2 615.5 1018.4 612.9C1022.6 610.3 1026.1 604.2 1030 601.3C1033.9 598.4 1036.4 596.5 1041.6 595.5C1046.8 594.5 1056.4 594.5 1060.9 595.5C1065.4 596.5 1066.1 599.4 1068.7 601.3C1071.3 603.2 1073.5 606.8 1076.4 607.1C1079.3 607.4 1082.5 605 1086.1 603.2C1089.6 601.4 1093.2 598 1097.7 596.5C1102.2 595 1109 593.6 1113.2 593.9C1117.4 594.2 1119.6 597.2 1122.8 598.4C1126 599.6 1129 601.1 1132.5 601.3C1136 601.5 1139.6 600.4 1144.1 599.7C1148.6 599.1 1149.9 597.9 1159.6 597.4C1169.3 596.9 1191 596.8 1202.2 596.8C1213.4 596.8 1218.6 597.5 1227 597.5C1235.4 597.5 1244.2 597.4 1252.8 597C1261.4 596.6 1270 595 1278.6 594.9C1287.2 594.8 1297.5 596.4 1304.4 596.2C1311.3 596 1314.3 593.5 1319.9 593.6C1325.5 593.7 1332 595.8 1338 596.7C1344 597.6 1347.8 599 1356 598.8C1364.2 598.6 1374.1 596.1 1387 595.7C1399.9 595.4 1421.5 596.3 1433.5 596.7C1445.5 597.1 1452 597.8 1459.3 598.3C1466.6 598.8 1471 599.7 1477.4 599.6C1483.9 599.5 1488.1 598.3 1498 597.7C1507.9 597.1 1521.7 596.4 1536.8 596.2C1551.9 596 1579.8 596.6 1588.4 596.7" fill="none" stroke="#0870c2" stroke-width="8.5" stroke-linejoin="round" stroke-linecap="butt"/>
<path d="M995.5 600L997 634L999 606L1000.5 636L1002.5 610L1004 628" fill="none" stroke="#0870c2" stroke-width="4.5" stroke-linejoin="round" stroke-linecap="butt"/>
</g>
<text transform="translate(993.1 721) scale(0.9615 1)" text-anchor="middle" font-size="34.63" stroke="#fff" stroke-width="0.1">0</text>
<text transform="translate(1125.4 721) scale(0.9615 1)" text-anchor="middle" font-size="34.63" stroke="#fff" stroke-width="0.1">20</text>
<text transform="translate(1257.6 721) scale(0.9615 1)" text-anchor="middle" font-size="34.63" stroke="#fff" stroke-width="0.1">40</text>
<text transform="translate(1389.9 721) scale(0.9615 1)" text-anchor="middle" font-size="34.63" stroke="#fff" stroke-width="0.1">60</text>
<text transform="translate(1522.2 721) scale(0.9615 1)" text-anchor="middle" font-size="34.63" stroke="#fff" stroke-width="0.1">80</text>
<text transform="translate(1288.7 766.6) scale(0.9615 1)" text-anchor="middle" font-size="35.98" stroke="#fff" stroke-width="0.15">Time (sec)</text>
<text transform="translate(980 524.6) scale(0.9615 1)" text-anchor="end" font-size="34.63" stroke="#fff" stroke-width="0.1">0.1</text>
<text transform="translate(980 607.1) scale(0.9615 1)" text-anchor="end" font-size="34.63" stroke="#fff" stroke-width="0.1">0</text>
<text transform="translate(980 689.6) scale(0.9615 1)" text-anchor="end" font-size="34.63" stroke="#fff" stroke-width="0.1">-0.1</text>
<text transform="translate(1600.4 534) scale(0.9615 1)" font-size="39.73" stroke="#fff" stroke-width="0.5">(d)</text>
<text transform="translate(859.6 600) rotate(-90) scale(0.9808 1)" text-anchor="middle" font-size="35.98" stroke="#fff" stroke-width="0.15">Tracking Error</text>
<text transform="translate(899.6 597.5) rotate(-90) scale(0.9615 1)" text-anchor="middle" font-size="35.98" stroke="#fff" stroke-width="0.15">(rad/s)</text>
<rect x="166.3" y="795.3" width="595.7" height="164.7" fill="#ecf4dd"/>
<rect x="170.5" y="799.4" width="587.4" height="156.4" fill="none" stroke="#fff" stroke-opacity="0.8" stroke-width="2.6"/>
<path d="M167.3 959.5C167.6 955.4 168.4 942.1 169.3 934.8C170.2 927.4 171.2 922.2 172.9 915.4C174.6 908.6 177 901.2 179.7 894.1C182.4 887 185.4 879 189 872.9C192.6 866.8 196.8 861.6 201.4 857.4C206 853.2 211 850 216.3 847.7C221.6 845.4 229.4 843.7 233.2 843.5C237 843.3 236.4 844.1 239 846.7C241.6 849.3 245.5 856.1 248.7 859.3C251.9 862.5 254.1 865.6 258.3 866.1C262.5 866.6 268.6 863.6 273.8 862.2C279 860.9 285.1 858.2 289.3 858C293.5 857.8 295.4 859.6 299 861.2C302.6 862.8 305.8 865.8 310.6 867.4C315.4 869 320.9 870.5 328 870.9C335.1 871.3 342.5 870.3 353.1 869.9C363.7 869.5 378.8 868.8 391.8 868.6C404.8 868.4 420.2 869.2 431 868.6C441.8 868 449.1 865.5 456.8 864.7C464.5 863.9 470.5 865 477.4 863.9C484.3 862.8 491.6 858.9 498.1 858.2C504.6 857.5 508.5 858.5 516.2 859.5C524 860.5 535.6 863.7 544.6 863.9C553.6 864.1 561.4 861.5 570.4 860.5C579.4 859.5 588.9 858.4 598.8 858.2C608.7 858 621.6 858.5 629.8 859.5C638 860.5 641.8 862.5 647.8 863.9C653.8 865.3 657.7 867.1 665.9 867.8C674.1 868.5 686.6 868.7 696.9 868.3C707.2 867.9 717.1 865.8 727.9 865.2C738.6 864.6 755.8 864.8 761.4 864.7" fill="none" stroke="#fff" stroke-opacity="0.62" stroke-width="12.6" stroke-linejoin="round" stroke-linecap="butt" clip-path="url(#h4)"/>
<path d="M298.7 960 v-9 M298.7 795.3 v9M431.1 960 v-9 M431.1 795.3 v9M563.4 960 v-9 M563.4 795.3 v9M695.8 960 v-9 M695.8 795.3 v9M166.3 877.8 h9 M762 877.8 h-9" stroke="#000" stroke-width="4.4" fill="none"/>
<rect x="166.3" y="795.3" width="595.7" height="164.7" fill="none" stroke="#000" stroke-width="5.7"/>
<g clip-path="url(#c4)">
<path d="M167.3 959.5C167.6 955.4 168.4 942.1 169.3 934.8C170.2 927.4 171.2 922.2 172.9 915.4C174.6 908.6 177 901.2 179.7 894.1C182.4 887 185.4 879 189 872.9C192.6 866.8 196.8 861.6 201.4 857.4C206 853.2 211 850 216.3 847.7C221.6 845.4 229.4 843.7 233.2 843.5C237 843.3 236.4 844.1 239 846.7C241.6 849.3 245.5 856.1 248.7 859.3C251.9 862.5 254.1 865.6 258.3 866.1C262.5 866.6 268.6 863.6 273.8 862.2C279 860.9 285.1 858.2 289.3 858C293.5 857.8 295.4 859.6 299 861.2C302.6 862.8 305.8 865.8 310.6 867.4C315.4 869 320.9 870.5 328 870.9C335.1 871.3 342.5 870.3 353.1 869.9C363.7 869.5 378.8 868.8 391.8 868.6C404.8 868.4 420.2 869.2 431 868.6C441.8 868 449.1 865.5 456.8 864.7C464.5 863.9 470.5 865 477.4 863.9C484.3 862.8 491.6 858.9 498.1 858.2C504.6 857.5 508.5 858.5 516.2 859.5C524 860.5 535.6 863.7 544.6 863.9C553.6 864.1 561.4 861.5 570.4 860.5C579.4 859.5 588.9 858.4 598.8 858.2C608.7 858 621.6 858.5 629.8 859.5C638 860.5 641.8 862.5 647.8 863.9C653.8 865.3 657.7 867.1 665.9 867.8C674.1 868.5 686.6 868.7 696.9 868.3C707.2 867.9 717.1 865.8 727.9 865.2C738.6 864.6 755.8 864.8 761.4 864.7" fill="none" stroke="#fc6020" stroke-width="9" stroke-linejoin="round" stroke-linecap="butt"/>
</g>
<text transform="translate(165.8 1002) scale(0.9615 1)" text-anchor="middle" font-size="34.63" stroke="#fff" stroke-width="0.1">0</text>
<text transform="translate(298.2 1002) scale(0.9615 1)" text-anchor="middle" font-size="34.63" stroke="#fff" stroke-width="0.1">20</text>
<text transform="translate(430.6 1002) scale(0.9615 1)" text-anchor="middle" font-size="34.63" stroke="#fff" stroke-width="0.1">40</text>
<text transform="translate(562.9 1002) scale(0.9615 1)" text-anchor="middle" font-size="34.63" stroke="#fff" stroke-width="0.1">60</text>
<text transform="translate(695.3 1002) scale(0.9615 1)" text-anchor="middle" font-size="34.63" stroke="#fff" stroke-width="0.1">80</text>
<text transform="translate(461.6 1047.6) scale(0.9615 1)" text-anchor="middle" font-size="35.98" stroke="#fff" stroke-width="0.15">Time (sec)</text>
<text transform="translate(152.7 806.1) scale(0.9615 1)" text-anchor="end" font-size="34.63" stroke="#fff" stroke-width="0.1">20</text>
<text transform="translate(152.7 888.4) scale(0.9615 1)" text-anchor="end" font-size="34.63" stroke="#fff" stroke-width="0.1">10</text>
<text transform="translate(152.7 970.6) scale(0.9615 1)" text-anchor="end" font-size="34.63" stroke="#fff" stroke-width="0.1">0</text>
<text transform="translate(773.6 815.5) scale(0.9615 1)" font-size="39.73" stroke="#fff" stroke-width="0.5">(e)</text>
<text transform="translate(32.3 883.6) rotate(-90) scale(0.9615 1)" text-anchor="middle" font-size="35.98" stroke="#fff" stroke-width="0.15">Control</text>
<text transform="translate(72.3 883.6) rotate(-90) scale(0.9615 1)" text-anchor="middle" font-size="35.98" stroke="#fff" stroke-width="0.15">voltage (V)</text>
<rect x="993.6" y="795.3" width="595.2" height="164.7" fill="#ecf4dd"/>
<rect x="997.8" y="799.4" width="586.9" height="156.4" fill="none" stroke="#fff" stroke-opacity="0.8" stroke-width="2.6"/>
<path d="M995.2 959.5C995.3 957 995.6 949.2 996 944.3C996.4 939.3 996.8 934 997.4 929.8C998 925.6 998.3 922.5 999.6 918.9C1000.9 915.3 1003.5 911.4 1005.4 908.1C1007.3 904.8 1009.4 902 1011.2 899.3C1013 896.6 1014.6 894 1016.3 892.1C1018 890.2 1019.5 888.8 1021.5 887.8C1023.5 886.8 1025.2 886 1028 885.9C1030.8 885.8 1033.9 886.6 1038 887.2C1042.1 887.9 1048.7 889.1 1052.5 889.8C1056.3 890.5 1058.2 891.9 1060.9 891.6C1063.6 891.4 1066.1 890.8 1068.7 888.3C1071.3 885.8 1073.5 879.8 1076.4 876.7C1079.3 873.7 1082.5 870.7 1086.1 870C1089.6 869.3 1093.2 871.2 1097.7 872.5C1102.2 873.8 1109 877.3 1113.2 877.7C1117.4 878.1 1119.6 876.2 1122.8 874.8C1126 873.3 1128.3 870.5 1132.5 869C1136.7 867.5 1141.2 866.2 1148 865.7C1154.8 865.2 1162.5 865.7 1173.1 866.1C1183.7 866.5 1198.9 867.8 1211.8 868C1224.7 868.2 1239.4 866.7 1250.5 867.1C1261.6 867.5 1269.6 869.5 1278.6 870.4C1287.6 871.3 1296.7 871.2 1304.4 872.4C1312.2 873.6 1318.6 876.9 1325.1 877.6C1331.6 878.3 1336.3 877.6 1343.2 876.8C1350.1 876 1359.1 873.3 1366.4 872.9C1373.7 872.5 1380.1 873.5 1387 874.2C1393.9 874.9 1399.1 876.7 1407.7 877.3C1416.3 877.9 1429.2 878 1438.7 877.6C1448.2 877.2 1456.8 876.3 1464.5 875C1472.2 873.7 1477.5 871 1485.2 869.8C1493 868.6 1502.4 868 1511 867.8C1519.6 867.5 1528.2 867.8 1536.8 868.3C1545.4 868.8 1554 870.3 1562.6 870.9C1571.2 871.5 1584.1 871.5 1588.4 871.6" fill="none" stroke="#fff" stroke-opacity="0.62" stroke-width="12.6" stroke-linejoin="round" stroke-linecap="butt" clip-path="url(#h5)"/>
<path d="M1125.9 960 v-9 M1125.9 795.3 v9M1258.1 960 v-9 M1258.1 795.3 v9M1390.4 960 v-9 M1390.4 795.3 v9M1522.7 960 v-9 M1522.7 795.3 v9M993.6 877.8 h9 M1588.8 877.8 h-9" stroke="#000" stroke-width="4.4" fill="none"/>
<rect x="993.6" y="795.3" width="595.2" height="164.7" fill="none" stroke="#000" stroke-width="5.7"/>
<g clip-path="url(#c5)">
<path d="M995.2 959.5C995.3 957 995.6 949.2 996 944.3C996.4 939.3 996.8 934 997.4 929.8C998 925.6 998.3 922.5 999.6 918.9C1000.9 915.3 1003.5 911.4 1005.4 908.1C1007.3 904.8 1009.4 902 1011.2 899.3C1013 896.6 1014.6 894 1016.3 892.1C1018 890.2 1019.5 888.8 1021.5 887.8C1023.5 886.8 1025.2 886 1028 885.9C1030.8 885.8 1033.9 886.6 1038 887.2C1042.1 887.9 1048.7 889.1 1052.5 889.8C1056.3 890.5 1058.2 891.9 1060.9 891.6C1063.6 891.4 1066.1 890.8 1068.7 888.3C1071.3 885.8 1073.5 879.8 1076.4 876.7C1079.3 873.7 1082.5 870.7 1086.1 870C1089.6 869.3 1093.2 871.2 1097.7 872.5C1102.2 873.8 1109 877.3 1113.2 877.7C1117.4 878.1 1119.6 876.2 1122.8 874.8C1126 873.3 1128.3 870.5 1132.5 869C1136.7 867.5 1141.2 866.2 1148 865.7C1154.8 865.2 1162.5 865.7 1173.1 866.1C1183.7 866.5 1198.9 867.8 1211.8 868C1224.7 868.2 1239.4 866.7 1250.5 867.1C1261.6 867.5 1269.6 869.5 1278.6 870.4C1287.6 871.3 1296.7 871.2 1304.4 872.4C1312.2 873.6 1318.6 876.9 1325.1 877.6C1331.6 878.3 1336.3 877.6 1343.2 876.8C1350.1 876 1359.1 873.3 1366.4 872.9C1373.7 872.5 1380.1 873.5 1387 874.2C1393.9 874.9 1399.1 876.7 1407.7 877.3C1416.3 877.9 1429.2 878 1438.7 877.6C1448.2 877.2 1456.8 876.3 1464.5 875C1472.2 873.7 1477.5 871 1485.2 869.8C1493 868.6 1502.4 868 1511 867.8C1519.6 867.5 1528.2 867.8 1536.8 868.3C1545.4 868.8 1554 870.3 1562.6 870.9C1571.2 871.5 1584.1 871.5 1588.4 871.6" fill="none" stroke="#fc6020" stroke-width="9" stroke-linejoin="round" stroke-linecap="butt"/>
</g>
<text transform="translate(993.1 1002) scale(0.9615 1)" text-anchor="middle" font-size="34.63" stroke="#fff" stroke-width="0.1">0</text>
<text transform="translate(1125.4 1002) scale(0.9615 1)" text-anchor="middle" font-size="34.63" stroke="#fff" stroke-width="0.1">20</text>
<text transform="translate(1257.6 1002) scale(0.9615 1)" text-anchor="middle" font-size="34.63" stroke="#fff" stroke-width="0.1">40</text>
<text transform="translate(1389.9 1002) scale(0.9615 1)" text-anchor="middle" font-size="34.63" stroke="#fff" stroke-width="0.1">60</text>
<text transform="translate(1522.2 1002) scale(0.9615 1)" text-anchor="middle" font-size="34.63" stroke="#fff" stroke-width="0.1">80</text>
<text transform="translate(1288.7 1047.6) scale(0.9615 1)" text-anchor="middle" font-size="35.98" stroke="#fff" stroke-width="0.15">Time (sec)</text>
<text transform="translate(980 806.1) scale(0.9615 1)" text-anchor="end" font-size="34.63" stroke="#fff" stroke-width="0.1">20</text>
<text transform="translate(980 888.4) scale(0.9615 1)" text-anchor="end" font-size="34.63" stroke="#fff" stroke-width="0.1">10</text>
<text transform="translate(980 970.6) scale(0.9615 1)" text-anchor="end" font-size="34.63" stroke="#fff" stroke-width="0.1">0</text>
<text transform="translate(1600.4 815.5) scale(0.9615 1)" font-size="39.73" stroke="#fff" stroke-width="0.5">(f)</text>
<text transform="translate(859.6 883.6) rotate(-90) scale(0.9615 1)" text-anchor="middle" font-size="35.98" stroke="#fff" stroke-width="0.15">Control</text>
<text transform="translate(899.6 883.6) rotate(-90) scale(0.9615 1)" text-anchor="middle" font-size="35.98" stroke="#fff" stroke-width="0.15">voltage (V)</text>
<rect x="166.3" y="1084.7" width="595.7" height="164.9" fill="#fae7d9"/>
<rect x="170.5" y="1088.9" width="587.4" height="156.6" fill="none" stroke="#fff" stroke-opacity="0.8" stroke-width="2.6"/>
<path d="M168.2 1249L168.2 1215.1L238.5 1215.1L238.5 1189L312.5 1189L312.5 1162.6L762 1162.6" fill="none" stroke="#fff" stroke-opacity="0.62" stroke-width="9" stroke-linejoin="miter" stroke-linecap="butt" stroke-dasharray="20.1 12.8" stroke-dashoffset="29.8" clip-path="url(#h6)"/>
<path d="M166.7 1248.5L244.8 1238.3L244.8 1222.8L312.5 1217L312.5 1183.2L761.8 1151.3" fill="none" stroke="#fff" stroke-opacity="0.62" stroke-width="9.6" stroke-linejoin="miter" stroke-linecap="butt" clip-path="url(#h6)"/>
<path d="M445.5 1117.2H529" fill="none" stroke="#fff" stroke-opacity="0.62" stroke-width="8.4" stroke-linejoin="round" stroke-linecap="butt" stroke-dasharray="20.1 13.4" stroke-dashoffset="1.8" clip-path="url(#h6)"/>
<path d="M588.5 1117.2H671" fill="none" stroke="#fff" stroke-opacity="0.62" stroke-width="9" stroke-linejoin="round" stroke-linecap="butt" clip-path="url(#h6)"/>
<path d="M298.7 1249.6 v-9 M298.7 1084.7 v9M431.1 1249.6 v-9 M431.1 1084.7 v9M563.4 1249.6 v-9 M563.4 1084.7 v9M695.8 1249.6 v-9 M695.8 1084.7 v9" stroke="#000" stroke-width="4.4" fill="none"/>
<rect x="166.3" y="1084.7" width="595.7" height="164.9" fill="none" stroke="#000" stroke-width="5.7"/>
<g clip-path="url(#c6)">
<path d="M168.2 1249L168.2 1215.1L238.5 1215.1L238.5 1189L312.5 1189L312.5 1162.6L762 1162.6" fill="none" stroke="#e8067e" stroke-width="5.4" stroke-linejoin="miter" stroke-linecap="butt" stroke-dasharray="16.5 16.4" stroke-dashoffset="28"/>
<path d="M166.7 1248.5L244.8 1238.3L244.8 1222.8L312.5 1217L312.5 1183.2L761.8 1151.3" fill="none" stroke="#0202f2" stroke-width="6" stroke-linejoin="miter" stroke-linecap="butt"/>
</g>
<path d="M445.5 1117.2H529" fill="none" stroke="#e8067e" stroke-width="4.8" stroke-linejoin="round" stroke-linecap="butt" stroke-dasharray="16.5 17"/>
<path d="M588.5 1117.2H671" fill="none" stroke="#0202f2" stroke-width="5.4" stroke-linejoin="round" stroke-linecap="butt"/>
<text x="535.6" y="1126.3" font-size="32" font-weight="normal" font-style="italic" font-family='"Liberation Serif", serif'>D<tspan dy="5.6" dx="-0.5" font-size="21.5" font-style="normal">0</tspan></text>
<text x="549.3" y="1115.3" font-size="26" font-weight="normal" font-family='"Liberation Serif", serif'>ˆ</text>
<text x="678.6" y="1126.3" font-size="32" font-weight="normal" font-style="italic" font-family='"Liberation Serif", serif'>D<tspan dy="5.6" dx="-0.5" font-size="21.5" font-style="normal">1</tspan></text>
<text x="692.3" y="1115.3" font-size="26" font-weight="normal" font-family='"Liberation Serif", serif'>ˆ</text>
<text transform="translate(165.8 1291.6) scale(0.9615 1)" text-anchor="middle" font-size="34.63" stroke="#fff" stroke-width="0.1">0</text>
<text transform="translate(298.2 1291.6) scale(0.9615 1)" text-anchor="middle" font-size="34.63" stroke="#fff" stroke-width="0.1">20</text>
<text transform="translate(430.6 1291.6) scale(0.9615 1)" text-anchor="middle" font-size="34.63" stroke="#fff" stroke-width="0.1">40</text>
<text transform="translate(562.9 1291.6) scale(0.9615 1)" text-anchor="middle" font-size="34.63" stroke="#fff" stroke-width="0.1">60</text>
<text transform="translate(695.3 1291.6) scale(0.9615 1)" text-anchor="middle" font-size="34.63" stroke="#fff" stroke-width="0.1">80</text>
<text transform="translate(461.6 1337.2) scale(0.9615 1)" text-anchor="middle" font-size="35.98" stroke="#fff" stroke-width="0.15">Time (sec)</text>
<text transform="translate(152.7 1095.4) scale(0.9615 1)" text-anchor="end" font-size="34.63" stroke="#fff" stroke-width="0.1">5</text>
<text transform="translate(152.7 1260.2) scale(0.9615 1)" text-anchor="end" font-size="34.63" stroke="#fff" stroke-width="0.1">0</text>
<text transform="translate(773.6 1104.9) scale(0.9615 1)" font-size="39.73" stroke="#fff" stroke-width="0.5">(g)</text>
<text transform="translate(32.3 1170) rotate(-90) scale(0.9615 1)" text-anchor="middle" font-size="35.98" stroke="#fff" stroke-width="0.15">Updated</text>
<text transform="translate(72.3 1169.5) rotate(-90) scale(0.9615 1)" text-anchor="middle" font-size="35.98" stroke="#fff" stroke-width="0.15">Parameter</text>
<rect x="993.6" y="1084.7" width="595.2" height="164.9" fill="#fae7d9"/>
<rect x="997.8" y="1088.9" width="586.9" height="156.6" fill="none" stroke="#fff" stroke-opacity="0.8" stroke-width="2.6"/>
<path d="M996.5 1249L997.5 1190L1056 1190L1056.5 1157L1130 1157L1134 1140.4L1589 1140.4" fill="none" stroke="#fff" stroke-opacity="0.62" stroke-width="9" stroke-linejoin="miter" stroke-linecap="butt" stroke-dasharray="20.1 12.8" stroke-dashoffset="1.8" clip-path="url(#h7)"/>
<path d="M994 1249L998 1242.2L1046.4 1240.2L1046.4 1224.8L1126.7 1219L1126.7 1202.5L1433 1181.5L1588.6 1168.1" fill="none" stroke="#fff" stroke-opacity="0.62" stroke-width="9.6" stroke-linejoin="miter" stroke-linecap="butt" clip-path="url(#h7)"/>
<path d="M1272.6 1117.2H1356.1" fill="none" stroke="#fff" stroke-opacity="0.62" stroke-width="8.4" stroke-linejoin="round" stroke-linecap="butt" stroke-dasharray="20.1 13.4" stroke-dashoffset="1.8" clip-path="url(#h7)"/>
<path d="M1415.6 1117.2H1498.1" fill="none" stroke="#fff" stroke-opacity="0.62" stroke-width="9" stroke-linejoin="round" stroke-linecap="butt" clip-path="url(#h7)"/>
<path d="M1125.9 1249.6 v-9 M1125.9 1084.7 v9M1258.1 1249.6 v-9 M1258.1 1084.7 v9M1390.4 1249.6 v-9 M1390.4 1084.7 v9M1522.7 1249.6 v-9 M1522.7 1084.7 v9" stroke="#000" stroke-width="4.4" fill="none"/>
<rect x="993.6" y="1084.7" width="595.2" height="164.9" fill="none" stroke="#000" stroke-width="5.7"/>
<g clip-path="url(#c7)">
<path d="M996.5 1249L997.5 1190L1056 1190L1056.5 1157L1130 1157L1134 1140.4L1589 1140.4" fill="none" stroke="#e8067e" stroke-width="5.4" stroke-linejoin="miter" stroke-linecap="butt" stroke-dasharray="16.5 16.4"/>
<path d="M994 1249L998 1242.2L1046.4 1240.2L1046.4 1224.8L1126.7 1219L1126.7 1202.5L1433 1181.5L1588.6 1168.1" fill="none" stroke="#0202f2" stroke-width="6" stroke-linejoin="miter" stroke-linecap="butt"/>
</g>
<path d="M1272.6 1117.2H1356.1" fill="none" stroke="#e8067e" stroke-width="4.8" stroke-linejoin="round" stroke-linecap="butt" stroke-dasharray="16.5 17"/>
<path d="M1415.6 1117.2H1498.1" fill="none" stroke="#0202f2" stroke-width="5.4" stroke-linejoin="round" stroke-linecap="butt"/>
<text x="1362.7" y="1126.3" font-size="32" font-weight="normal" font-style="italic" font-family='"Liberation Serif", serif'>D<tspan dy="5.6" dx="-0.5" font-size="21.5" font-style="normal">0</tspan></text>
<text x="1376.4" y="1115.3" font-size="26" font-weight="normal" font-family='"Liberation Serif", serif'>ˆ</text>
<text x="1505.7" y="1126.3" font-size="32" font-weight="normal" font-style="italic" font-family='"Liberation Serif", serif'>D<tspan dy="5.6" dx="-0.5" font-size="21.5" font-style="normal">1</tspan></text>
<text x="1519.4" y="1115.3" font-size="26" font-weight="normal" font-family='"Liberation Serif", serif'>ˆ</text>
<text transform="translate(993.1 1291.6) scale(0.9615 1)" text-anchor="middle" font-size="34.63" stroke="#fff" stroke-width="0.1">0</text>
<text transform="translate(1125.4 1291.6) scale(0.9615 1)" text-anchor="middle" font-size="34.63" stroke="#fff" stroke-width="0.1">20</text>
<text transform="translate(1257.6 1291.6) scale(0.9615 1)" text-anchor="middle" font-size="34.63" stroke="#fff" stroke-width="0.1">40</text>
<text transform="translate(1389.9 1291.6) scale(0.9615 1)" text-anchor="middle" font-size="34.63" stroke="#fff" stroke-width="0.1">60</text>
<text transform="translate(1522.2 1291.6) scale(0.9615 1)" text-anchor="middle" font-size="34.63" stroke="#fff" stroke-width="0.1">80</text>
<text transform="translate(1288.7 1337.2) scale(0.9615 1)" text-anchor="middle" font-size="35.98" stroke="#fff" stroke-width="0.15">Time (sec)</text>
<text transform="translate(980 1095.4) scale(0.9615 1)" text-anchor="end" font-size="34.63" stroke="#fff" stroke-width="0.1">5</text>
<text transform="translate(980 1260.2) scale(0.9615 1)" text-anchor="end" font-size="34.63" stroke="#fff" stroke-width="0.1">0</text>
<text transform="translate(1600.4 1104.9) scale(0.9615 1)" font-size="39.73" stroke="#fff" stroke-width="0.5">(h)</text>
<text transform="translate(859.6 1170) rotate(-90) scale(0.9615 1)" text-anchor="middle" font-size="35.98" stroke="#fff" stroke-width="0.15">Updated</text>
<text transform="translate(899.6 1169.5) rotate(-90) scale(0.9615 1)" text-anchor="middle" font-size="35.98" stroke="#fff" stroke-width="0.15">Parameter</text>
<rect x="166.3" y="1374.3" width="595.7" height="164.9" fill="#ecf4dd"/>
<rect x="170.5" y="1378.5" width="587.4" height="156.6" fill="none" stroke="#fff" stroke-opacity="0.8" stroke-width="2.6"/>
<path d="M168.5 1374L172.8 1486.7L244.8 1486.7L244.8 1515.7L326 1515.7L326 1524.5L762 1524.5" fill="none" stroke="#fff" stroke-opacity="0.62" stroke-width="8.1" stroke-linejoin="miter" stroke-linecap="butt" clip-path="url(#h8)"/>
<path d="M526.5 1407H609" fill="none" stroke="#fff" stroke-opacity="0.62" stroke-width="8.4" stroke-linejoin="round" stroke-linecap="butt" clip-path="url(#h8)"/>
<path d="M298.7 1539.2 v-9 M298.7 1374.3 v9M431.1 1539.2 v-9 M431.1 1374.3 v9M563.4 1539.2 v-9 M563.4 1374.3 v9M695.8 1539.2 v-9 M695.8 1374.3 v9M166.3 1449.2 h9 M762 1449.2 h-9M166.3 1524.5 h9 M762 1524.5 h-9" stroke="#000" stroke-width="4.4" fill="none"/>
<rect x="166.3" y="1374.3" width="595.7" height="164.9" fill="none" stroke="#000" stroke-width="5.7"/>
<g clip-path="url(#c8)">
<path d="M168.5 1374L172.8 1486.7L244.8 1486.7L244.8 1515.7L326 1515.7L326 1524.5L762 1524.5" fill="none" stroke="#6fa01c" stroke-width="4.5" stroke-linejoin="miter" stroke-linecap="butt"/>
</g>
<path d="M526.5 1407H609" fill="none" stroke="#6fa01c" stroke-width="4.8" stroke-linejoin="round" stroke-linecap="butt"/>
<text x="618.5" y="1416" font-size="30" font-weight="normal" font-style="italic" font-family='"Liberation Serif", serif'>λ</text>
<text x="620" y="1404" font-size="26" font-weight="normal" font-family='"Liberation Serif", serif'>ˆ</text>
<text transform="translate(165.8 1581.2) scale(0.9615 1)" text-anchor="middle" font-size="34.63" stroke="#fff" stroke-width="0.1">0</text>
<text transform="translate(298.2 1581.2) scale(0.9615 1)" text-anchor="middle" font-size="34.63" stroke="#fff" stroke-width="0.1">20</text>
<text transform="translate(430.6 1581.2) scale(0.9615 1)" text-anchor="middle" font-size="34.63" stroke="#fff" stroke-width="0.1">40</text>
<text transform="translate(562.9 1581.2) scale(0.9615 1)" text-anchor="middle" font-size="34.63" stroke="#fff" stroke-width="0.1">60</text>
<text transform="translate(695.3 1581.2) scale(0.9615 1)" text-anchor="middle" font-size="34.63" stroke="#fff" stroke-width="0.1">80</text>
<text transform="translate(461.6 1626.8) scale(0.9615 1)" text-anchor="middle" font-size="35.98" stroke="#fff" stroke-width="0.15">Time (sec)</text>
<text transform="translate(152.7 1384.4) scale(0.9615 1)" text-anchor="end" font-size="34.63" stroke="#fff" stroke-width="0.1">20</text>
<text transform="translate(152.7 1459.8) scale(0.9615 1)" text-anchor="end" font-size="34.63" stroke="#fff" stroke-width="0.1">10</text>
<text transform="translate(152.7 1535.1) scale(0.9615 1)" text-anchor="end" font-size="34.63" stroke="#fff" stroke-width="0.1">0</text>
<text transform="translate(773.6 1394.5) scale(0.9615 1)" font-size="39.73" stroke="#fff" stroke-width="0.5">(i)</text>
<text transform="translate(32.3 1459.2) rotate(-90) scale(0.9615 1)" text-anchor="middle" font-size="35.98" stroke="#fff" stroke-width="0.15">Updated</text>
<text transform="translate(72.3 1458.7) rotate(-90) scale(0.9615 1)" text-anchor="middle" font-size="35.98" stroke="#fff" stroke-width="0.15">Parameter</text>
<rect x="993.6" y="1374.3" width="595.2" height="164.9" fill="#ecf4dd"/>
<rect x="997.8" y="1378.5" width="586.9" height="156.6" fill="none" stroke="#fff" stroke-opacity="0.8" stroke-width="2.6"/>
<path d="M996 1374L1000.6 1471.8L1053.6 1471.8L1053.6 1509L1126.3 1509L1126.3 1524.5L1589 1524.5" fill="none" stroke="#fff" stroke-opacity="0.62" stroke-width="8.1" stroke-linejoin="miter" stroke-linecap="butt" clip-path="url(#h9)"/>
<path d="M1353.6 1407H1436.1" fill="none" stroke="#fff" stroke-opacity="0.62" stroke-width="8.4" stroke-linejoin="round" stroke-linecap="butt" clip-path="url(#h9)"/>
<path d="M1125.9 1539.2 v-9 M1125.9 1374.3 v9M1258.1 1539.2 v-9 M1258.1 1374.3 v9M1390.4 1539.2 v-9 M1390.4 1374.3 v9M1522.7 1539.2 v-9 M1522.7 1374.3 v9M993.6 1449.2 h9 M1588.8 1449.2 h-9M993.6 1524.5 h9 M1588.8 1524.5 h-9" stroke="#000" stroke-width="4.4" fill="none"/>
<rect x="993.6" y="1374.3" width="595.2" height="164.9" fill="none" stroke="#000" stroke-width="5.7"/>
<g clip-path="url(#c9)">
<path d="M996 1374L1000.6 1471.8L1053.6 1471.8L1053.6 1509L1126.3 1509L1126.3 1524.5L1589 1524.5" fill="none" stroke="#6fa01c" stroke-width="4.5" stroke-linejoin="miter" stroke-linecap="butt"/>
</g>
<path d="M1353.6 1407H1436.1" fill="none" stroke="#6fa01c" stroke-width="4.8" stroke-linejoin="round" stroke-linecap="butt"/>
<text x="1445.6" y="1416" font-size="30" font-weight="normal" font-style="italic" font-family='"Liberation Serif", serif'>λ</text>
<text x="1447.1" y="1404" font-size="26" font-weight="normal" font-family='"Liberation Serif", serif'>ˆ</text>
<text transform="translate(993.1 1581.2) scale(0.9615 1)" text-anchor="middle" font-size="34.63" stroke="#fff" stroke-width="0.1">0</text>
<text transform="translate(1125.4 1581.2) scale(0.9615 1)" text-anchor="middle" font-size="34.63" stroke="#fff" stroke-width="0.1">20</text>
<text transform="translate(1257.6 1581.2) scale(0.9615 1)" text-anchor="middle" font-size="34.63" stroke="#fff" stroke-width="0.1">40</text>
<text transform="translate(1389.9 1581.2) scale(0.9615 1)" text-anchor="middle" font-size="34.63" stroke="#fff" stroke-width="0.1">60</text>
<text transform="translate(1522.2 1581.2) scale(0.9615 1)" text-anchor="middle" font-size="34.63" stroke="#fff" stroke-width="0.1">80</text>
<text transform="translate(1288.7 1626.8) scale(0.9615 1)" text-anchor="middle" font-size="35.98" stroke="#fff" stroke-width="0.15">Time (sec)</text>
<text transform="translate(980 1384.4) scale(0.9615 1)" text-anchor="end" font-size="34.63" stroke="#fff" stroke-width="0.1">20</text>
<text transform="translate(980 1459.8) scale(0.9615 1)" text-anchor="end" font-size="34.63" stroke="#fff" stroke-width="0.1">10</text>
<text transform="translate(980 1535.1) scale(0.9615 1)" text-anchor="end" font-size="34.63" stroke="#fff" stroke-width="0.1">0</text>
<text transform="translate(1600.4 1394.5) scale(0.9615 1)" font-size="39.73" stroke="#fff" stroke-width="0.5">(j)</text>
<text transform="translate(859.6 1459.2) rotate(-90) scale(0.9615 1)" text-anchor="middle" font-size="35.98" stroke="#fff" stroke-width="0.15">Updated</text>
<text transform="translate(899.6 1458.7) rotate(-90) scale(0.9615 1)" text-anchor="middle" font-size="35.98" stroke="#fff" stroke-width="0.15">Parameter</text>
</svg>
</body>
</html>
